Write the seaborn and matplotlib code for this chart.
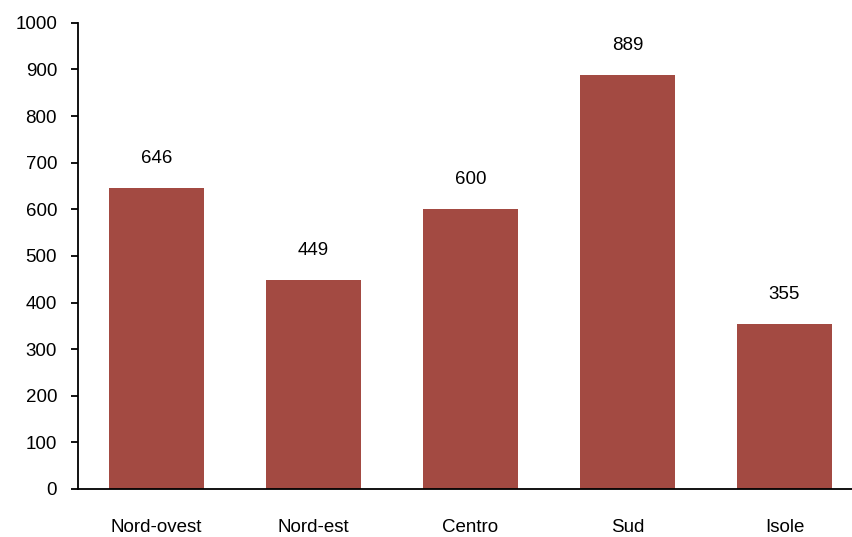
import matplotlib
matplotlib.use("Agg")
import matplotlib.pyplot as plt
import seaborn as sns
import pandas as pd

regions = ["Nord-ovest", "Nord-est", "Centro", "Sud", "Isole"]
values = [646, 449, 600, 889, 355]
yticks = [0, 100, 200, 300, 400, 500, 600, 700, 800, 900, 1000]

sns.set_style("white")
plt.rcParams["font.family"] = ["Liberation Sans", "DejaVu Sans"]

df = pd.DataFrame({"regione": regions, "valore": values})

fig = plt.figure(figsize=(8.52, 5.37), dpi=100)
ax = fig.add_axes([0.0915, 0.0894, 0.9085, 0.868])

sns.barplot(data=df, x="regione", y="valore", color="#A34A42", width=0.61,
            saturation=1, ax=ax, edgecolor="none")

for i, v in enumerate(values):
    ax.annotate(str(v), xy=(i, v), xytext=(0, 15), textcoords="offset points",
                ha="center", va="bottom", fontsize=13.5, color="black")

ax.set_ylim(0, 1000)
ax.set_yticks(yticks)
ax.set_xlim(-0.5, 4.43)
ax.set_xlabel("")
ax.set_ylabel("")

for side in ["top", "right"]:
    ax.spines[side].set_visible(False)
for side in ["left", "bottom"]:
    ax.spines[side].set_color("black")
    ax.spines[side].set_linewidth(1.3)

ax.tick_params(axis="y", direction="out", length=5, width=1.3, color="black",
               left=True, pad=10, labelsize=13.5, labelcolor="black")
ax.tick_params(axis="x", length=0, pad=21.5, labelsize=13.5, labelcolor="black")

fig.savefig("out.png", dpi=100)
